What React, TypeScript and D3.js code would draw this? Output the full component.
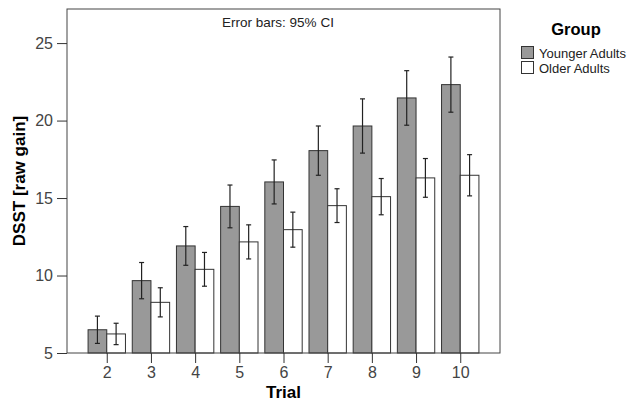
import React, { useEffect, useRef } from 'react';
import * as d3 from 'd3';

// chart values
const trials = ['2', '3', '4', '5', '6', '7', '8', '9', '10'];
const groups = ['Younger Adults', 'Older Adults'];
const youngerMean = [6.5, 9.67, 11.91, 14.46, 16.04, 18.06, 19.65, 21.46, 22.32];
const youngerCI = [0.88, 1.17, 1.25, 1.38, 1.42, 1.59, 1.75, 1.76, 1.78];
const olderMean = [6.23, 8.27, 10.4, 12.17, 12.96, 14.51, 15.09, 16.3, 16.47];
const olderCI = [0.69, 0.94, 1.09, 1.1, 1.13, 1.09, 1.17, 1.25, 1.33];
const yTicks = [5, 10, 15, 20, 25];

const FONT = '"Liberation Sans", Arial, sans-serif';
const fills = ['#999999', '#ffffff'];

const App = () => {
  const svgRef = useRef<SVGSVGElement>(null);

  useEffect(() => {
    const svg = d3.select(svgRef.current);
    svg.selectAll('*').remove();

    const width = 633;
    const height = 404;
    const margin = { top: 9, left: 67, right: 133, bottom: 51 };
    const innerW = width - margin.left - margin.right;
    const innerH = height - margin.top - margin.bottom;

    svg.attr('width', width).attr('height', height);
    const g = svg.append('g').attr('transform', `translate(${margin.left},${margin.top})`);

    const x = d3.scalePoint().domain(trials).range([0, innerW]).padding(0.9);
    const y = d3.scaleLinear().domain([5, 27.2]).range([innerH, 0]);
    const barW = x.step() * 0.423;

    const rows = trials.map((t, i) => [
      { trial: t, g: 0, mean: youngerMean[i], ci: youngerCI[i] },
      { trial: t, g: 1, mean: olderMean[i], ci: olderCI[i] }
    ]).flat();

    // bars
    g.selectAll('rect.bar')
      .data(rows)
      .enter()
      .append('rect')
      .attr('class', 'bar')
      .attr('x', d => (x(d.trial) as number) + (d.g === 0 ? -barW : 0))
      .attr('y', d => y(d.mean))
      .attr('width', barW)
      .attr('height', d => innerH - y(d.mean))
      .attr('fill', d => fills[d.g])
      .attr('stroke', '#333')
      .attr('stroke-width', 1);

    // error bars
    const eb = g.selectAll('g.err')
      .data(rows)
      .enter()
      .append('g')
      .attr('class', 'err')
      .attr('stroke', '#222')
      .attr('stroke-width', 1.2);
    const cx = d => (x(d.trial) as number) + (d.g === 0 ? -barW / 2 : barW / 2);
    eb.append('line')
      .attr('x1', cx).attr('x2', cx)
      .attr('y1', d => y(d.mean + d.ci)).attr('y2', d => y(d.mean - d.ci));
    eb.append('line')
      .attr('x1', d => cx(d) - 2.5).attr('x2', d => cx(d) + 2.5)
      .attr('y1', d => y(d.mean + d.ci)).attr('y2', d => y(d.mean + d.ci));
    eb.append('line')
      .attr('x1', d => cx(d) - 2.5).attr('x2', d => cx(d) + 2.5)
      .attr('y1', d => y(d.mean - d.ci)).attr('y2', d => y(d.mean - d.ci));

    // frame
    g.append('rect')
      .attr('width', innerW)
      .attr('height', innerH)
      .attr('fill', 'none')
      .attr('stroke', '#444')
      .attr('stroke-width', 1);

    // axes
    const yAxis = g.append('g')
      .call(d3.axisLeft(y).tickValues(yTicks).tickSize(10).tickPadding(4));
    const xAxis = g.append('g')
      .attr('transform', `translate(0,${innerH})`)
      .call(d3.axisBottom(x).tickSize(10).tickPadding(4));
    [yAxis, xAxis].forEach(a => {
      a.select('.domain').remove();
      a.selectAll('line').attr('stroke', '#333');
      a.selectAll('text')
        .attr('fill', '#444')
        .style('font-family', FONT)
        .style('font-size', '16px');
    });

    // note
    g.append('text')
      .attr('x', 211)
      .attr('y', 17.5)
      .attr('text-anchor', 'middle')
      .style('font-family', FONT)
      .style('font-size', '13.5px')
      .attr('fill', '#222')
      .text('Error bars: 95% CI');

    // axis titles
    svg.append('text')
      .attr('transform', `translate(25,${margin.top + innerH / 2}) rotate(-90)`)
      .attr('text-anchor', 'middle')
      .style('font-family', FONT)
      .style('font-size', '17px')
      .style('font-weight', 'bold')
      .text('DSST [raw gain]');

    svg.append('text')
      .attr('x', margin.left + innerW / 2)
      .attr('y', 398)
      .attr('text-anchor', 'middle')
      .style('font-family', FONT)
      .style('font-size', '17px')
      .style('font-weight', 'bold')
      .text('Trial');

    // legend
    const legend = svg.append('g').attr('transform', 'translate(521,0)');
    legend.append('text')
      .attr('x', 55)
      .attr('y', 35)
      .attr('text-anchor', 'middle')
      .style('font-family', FONT)
      .style('font-size', '16.5px')
      .style('font-weight', 'bold')
      .text('Group');

    groups.forEach((name, i) => {
      legend.append('rect')
        .attr('x', 0.5)
        .attr('y', 46.5 + i * 15)
        .attr('width', 12)
        .attr('height', 12)
        .attr('fill', fills[i])
        .attr('stroke', '#333');
      legend.append('text')
        .attr('x', 18)
        .attr('y', 57.5 + i * 15)
        .style('font-family', FONT)
        .style('font-size', '13px')
        .attr('fill', '#222')
        .text(name);
    });
  }, []);

  return (
    <div style={{ position: 'absolute', left: 0, top: 0 }}>
      <svg ref={svgRef}></svg>
    </div>
  );
};

export default App;
